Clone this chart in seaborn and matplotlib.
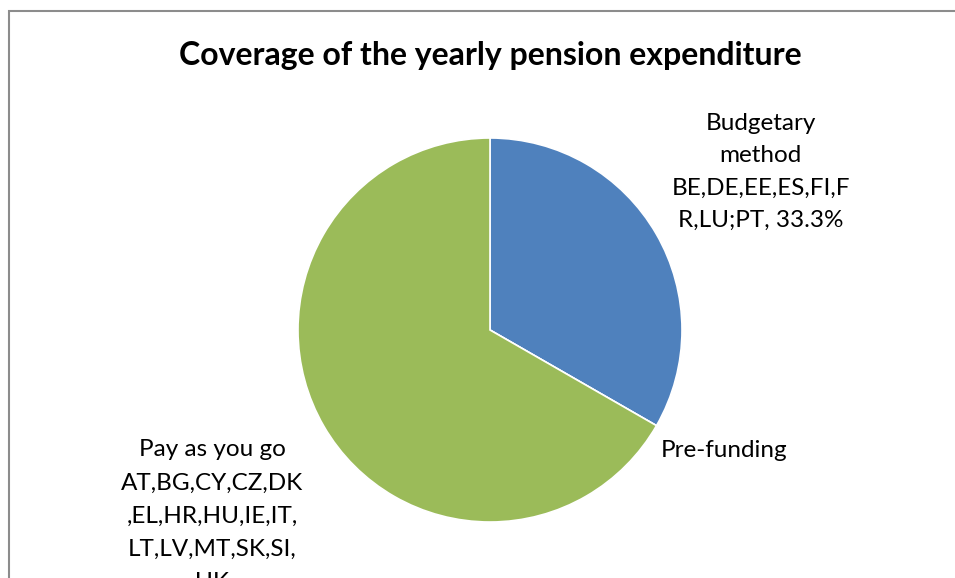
import matplotlib
matplotlib.use("Agg")
import matplotlib.pyplot as plt
import seaborn as sns
from matplotlib.patches import Rectangle

sns.set_theme(style="white")
plt.rcParams["font.family"] = ["Lato", "DejaVu Sans"]

# Pension financing methods and their share of countries
categories = ["Budgetary method", "Pre-funding", "Pay as you go"]
country_lists = [
    "BE,DE,EE,ES,FI,F\nR,LU;PT",
    "",
    "AT,BG,CY,CZ,DK\n,EL,HR,HU,IE,IT,\nLT,LV,MT,SK,SI,\nUK",
]
shares = [33.3, 0.0, 66.7]
colors = ["#4F81BD", "#C0504D", "#9BBB59"]
title = "Coverage of the yearly pension expenditure"

W, H = 955, 578
fig = plt.figure(figsize=(W / 100, H / 100), dpi=100)
fig.patch.set_facecolor("white")

# chart area frame
fig.patches.append(Rectangle((9 / W, -0.05), 1.1, 1 - 11 / H + 0.05,
                             transform=fig.transFigure, fill=False,
                             edgecolor="#8c8c8c", linewidth=1.5))

cx, cy, r = 490, 330, 192
ax = fig.add_axes([(cx - r) / W, (H - cy - r) / H, 2 * r / W, 2 * r / H])
ax.pie(shares, colors=colors, startangle=90, counterclock=False, radius=1,
       wedgeprops=dict(linewidth=1.2, edgecolor="white"))
ax.set_xlim(-1, 1)
ax.set_ylim(-1, 1)
ax.set_aspect("equal")
ax.axis("off")

fs = 17.5
# Budgetary method label
ax.text(1.41, 1.13, f"Budgetary\nmethod\n{country_lists[0]}, {shares[0]:.1f}%",
        ha="center", va="top", fontsize=fs, linespacing=1.66, clip_on=False,
        color="black")
# Pre-funding label (no value shown)
ax.text(0.89, -0.63, categories[1], ha="left", va="center", fontsize=fs,
        clip_on=False, color="black")
# Pay as you go label
ax.text(-1.448, -0.57, f"{categories[2]}\n{country_lists[2]}",
        ha="center", va="top", fontsize=fs, linespacing=1.72, clip_on=False,
        color="black")

fig.text(490 / W, 1 - 55 / H, title, ha="center", va="center",
         fontsize=23, fontweight="bold", color="black")

fig.savefig("out.png", dpi=100)
